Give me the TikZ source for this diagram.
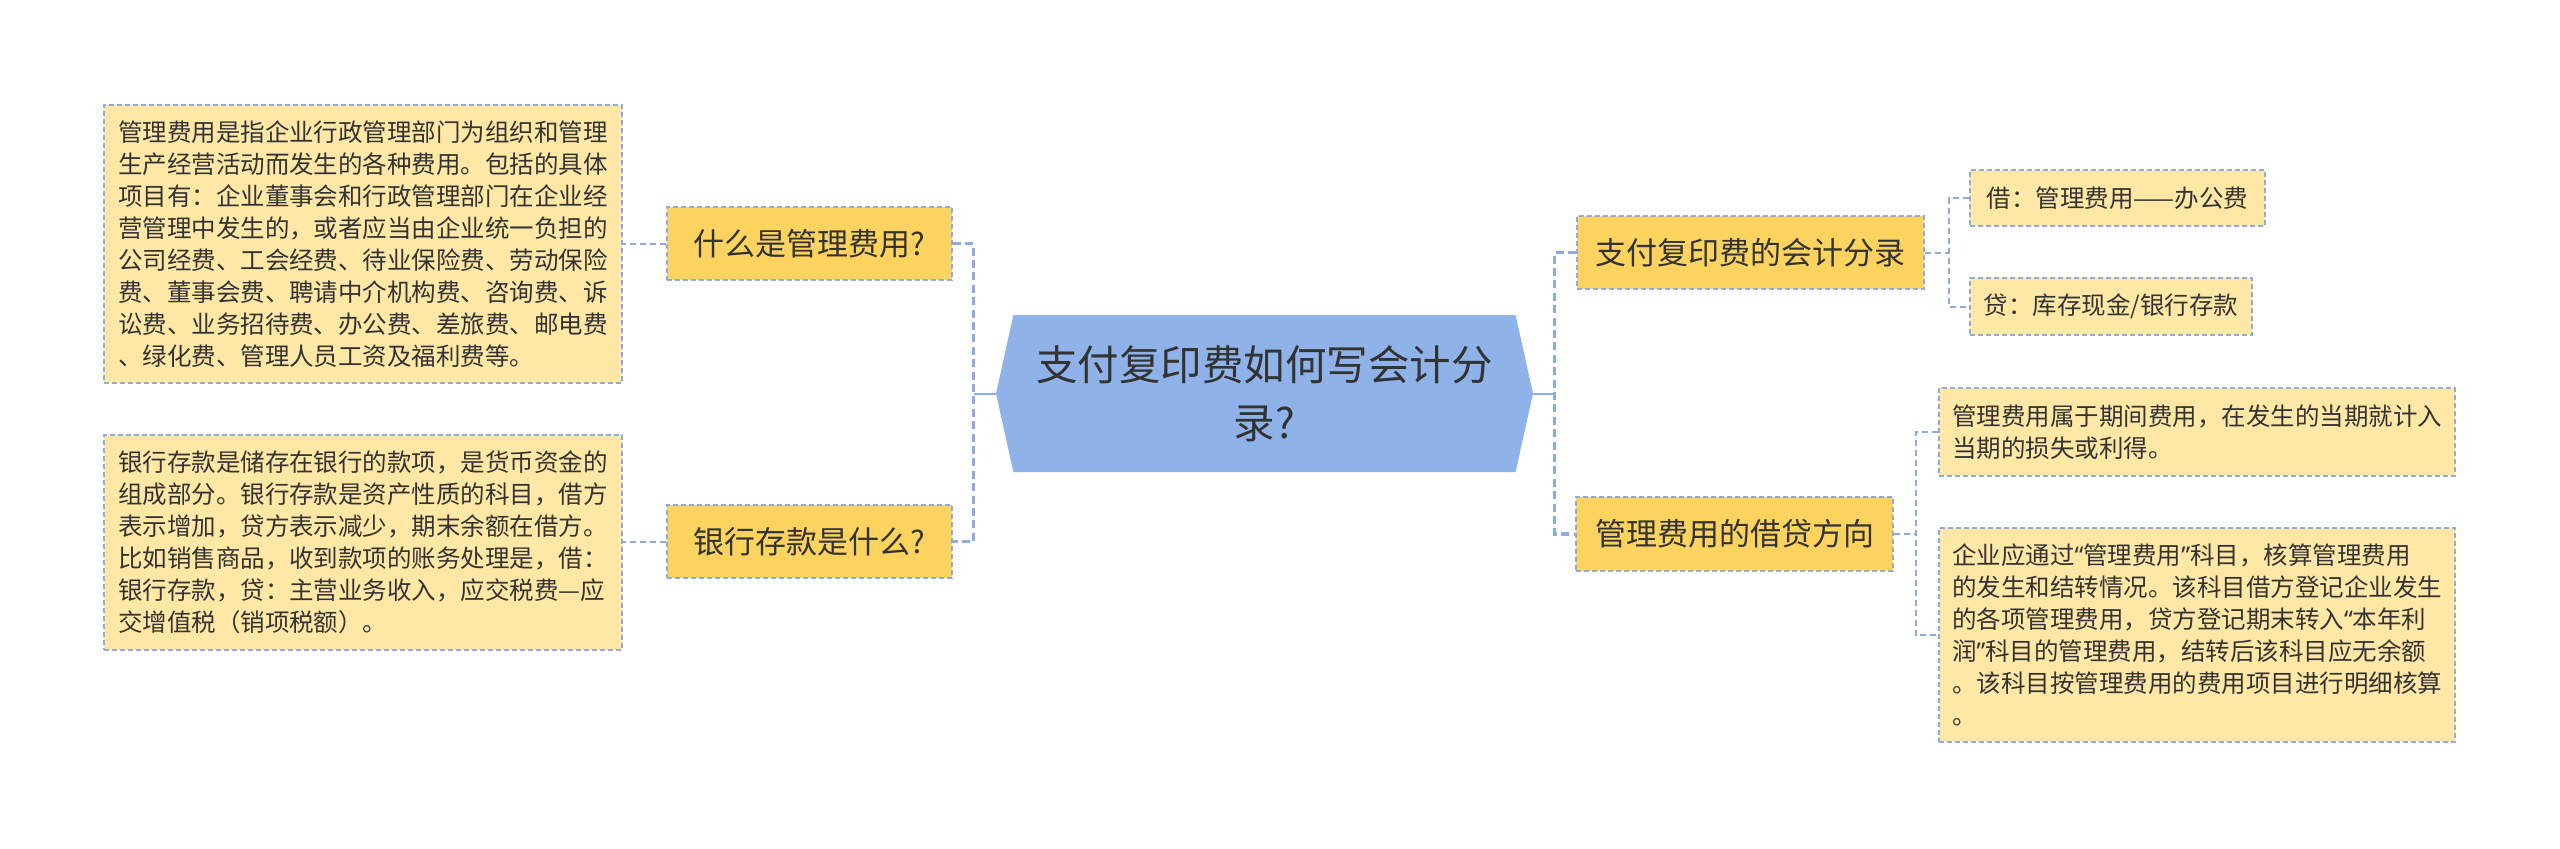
\documentclass[tikz,border=0pt]{standalone}
\usepackage{fontspec}
\newfontfamily\cjkfont{Noto Sans CJK SC}
\newfontfamily\latinfont{Noto Sans}
\newcommand\openq{{\latinfont “}}
\newcommand\closeq{{\latinfont ”}}
\usetikzlibrary{shapes.symbols}

\definecolor{rootblue}{HTML}{8FB3E9}
\definecolor{topicgold}{HTML}{FCD35E}
\definecolor{notecream}{HTML}{FFE8A6}
\definecolor{linkblue}{HTML}{8DABDD}
\definecolor{inkgray}{HTML}{333333}

\begin{document}
\begin{tikzpicture}[x=0.5pt, y=-0.5pt,
    root/.style={signal, signal to=west and east, signal pointer angle=155,
                 fill=rootblue, draw=none, text=inkgray, align=center,
                 font=\cjkfont\fontsize{20.75}{29}\selectfont,
                 minimum width=268.5pt, minimum height=78.5pt, inner sep=0pt},
    topic/.style={rectangle, fill=topicgold, draw=linkblue, line width=0.8pt,
                  dash pattern=on 2.5pt off 1.5pt, text=inkgray,
                  font=\cjkfont\fontsize{15.5}{19}\selectfont,
                  minimum height=36.5pt, inner sep=0pt},
    note/.style={rectangle, fill=notecream, draw=linkblue, line width=0.8pt,
                 dash pattern=on 2.5pt off 1.5pt, text=inkgray, align=left,
                 font=\cjkfont\fontsize{12.25}{16}\selectfont, inner sep=0pt},
    stem/.style={draw=linkblue, line width=1pt},
    branch/.style={draw=linkblue, line width=1.6pt, dash pattern=on 4pt off 2.2pt},
    twig/.style={draw=linkblue, line width=1pt, dash pattern=on 3pt off 2pt},
]

\path[fill=white] (0,0) rectangle (2560,848);

% --- Central topic ---
\node[root] (root) at (1264.5, 393.5) {支付复印费如何写会计分\\录?};

% --- Left topics ---
\node[topic, minimum width=142.5pt] (whatfee)  at (809.5, 243.5) {什么是管理费用?};
\node[topic, minimum width=142.5pt] (whatbank) at (809.5, 541.5) {银行存款是什么?};

% --- Left notes ---
\node[note, text width=245pt, minimum width=259pt, minimum height=139pt] (feenote) at (363, 244) {%
管理费用是指企业行政管理部门为组织和管理\\
生产经营活动而发生的各种费用。包括的具体\\
项目有：企业董事会和行政管理部门在企业经\\
营管理中发生的，或者应当由企业统一负担的\\
公司经费、工会经费、待业保险费、劳动保险\\
费、董事会费、聘请中介机构费、咨询费、诉\\
讼费、业务招待费、办公费、差旅费、邮电费\\
、绿化费、管理人员工资及福利费等。};
\node[note, text width=245pt, minimum width=259pt, minimum height=107.5pt] (banknote) at (363, 542.5) {%
银行存款是储存在银行的款项，是货币资金的\\
组成部分。银行存款是资产性质的科目，借方\\
表示增加，贷方表示减少，期末余额在借方。\\
比如销售商品，收到款项的账务处理是，借：\\
银行存款，贷：主营业务收入，应交税费—应\\
交增值税（销项税额）。};

% --- Right topics ---
\node[topic, minimum width=173.5pt] (entry)     at (1750.5, 252.5) {支付复印费的会计分录};
\node[topic, minimum width=158.5pt, minimum height=37pt] (direction) at (1734.5, 534) {管理费用的借贷方向};

% --- Right notes ---
\node[note, minimum width=147.5pt, minimum height=28pt]   (debit)  at (2117.5, 198)  {借：管理费用——办公费};
\node[note, minimum width=141pt,   minimum height=28.5pt] (credit) at (2111, 306.5) {贷：库存现金/银行存款};
\node[note, text width=245pt, minimum width=258pt, minimum height=44pt] (period) at (2197, 432) {%
管理费用属于期间费用，在发生的当期就计入\\
当期的损失或利得。};
\node[note, text width=245pt, minimum width=258pt, minimum height=107pt] (account) at (2197, 635) {%
企业应通过\openq 管理费用\closeq 科目，核算管理费用\\
的发生和结转情况。该科目借方登记企业发生\\
的各项管理费用，贷方登记期末转入\openq 本年利\\
润\closeq 科目的管理费用，结转后该科目应无余额\\
。该科目按管理费用的费用项目进行明细核算\\
。};

% --- Root connections ---
\coordinate (ljoin) at ([xshift=-11pt]root.west);
\coordinate (rjoin) at ([xshift=10.5pt]root.east);
\draw[stem] (root.west) -- (ljoin);
\draw[stem] (root.east) -- (rjoin);
\draw[branch] (whatfee.east) -- (whatfee.east -| ljoin) -- (whatbank.east -| ljoin) -- (whatbank.east);
\draw[branch] (entry.west) -- (entry.west -| rjoin) -- (direction.west -| rjoin) -- (direction.west);

% --- Topic to note connections ---
\draw[twig] (whatfee.west) -- (whatfee.west -| feenote.east);
\draw[twig] (whatbank.west) -- (whatbank.west -| banknote.east);

\coordinate (ejoin) at ([xshift=12pt]entry.east);
\draw[twig] (entry.east) -- (ejoin);
\draw[twig] (debit.west) -- (debit.west -| ejoin) -- (credit.west -| ejoin) -- (credit.west);

\coordinate (djoin) at ([xshift=11pt]direction.east);
\draw[twig] (direction.east) -- (djoin);
\draw[twig] (period.west) -- (period.west -| djoin) -- (account.west -| djoin) -- (account.west);

\end{tikzpicture}
\end{document}
